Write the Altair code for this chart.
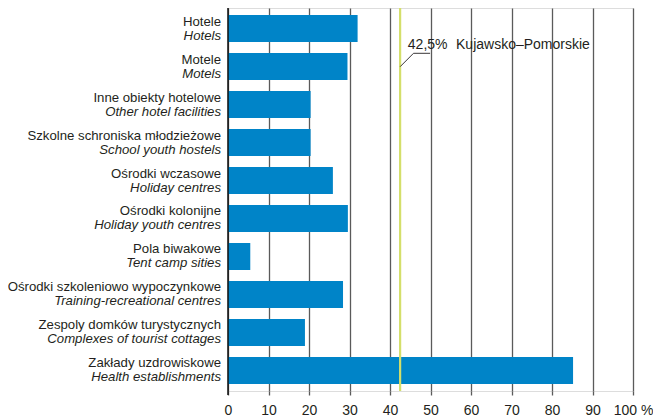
import altair as alt
import pandas as pd

labels_pl = [
    "Hotele", "Motele", "Inne obiekty hotelowe", "Szkolne schroniska młodzieżowe",
    "Ośrodki wczasowe", "Ośrodki kolonijne", "Pola biwakowe",
    "Ośrodki szkoleniowo wypoczynkowe", "Zespoly domków turystycznych", "Zakłady uzdrowiskowe",
]
labels_en = [
    "Hotels", "Motels", "Other hotel facilities", "School youth hostels",
    "Holiday centres", "Holiday youth centres", "Tent camp sities",
    "Training-recreational centres", "Complexes of tourist cottages", "Health establishments",
]
values = [32.0, 29.5, 20.4, 20.4, 25.9, 29.6, 5.5, 28.4, 19.0, 85.2]
ticks = [0, 10, 20, 30, 40, 50, 60, 70, 80, 90, 100]
ref_value = 42.5
ref_label = "42,5%"
ref_region = "Kujawsko–Pomorskie"

df = pd.DataFrame({"pl": labels_pl, "en": labels_en, "v": values})
order = labels_pl

FONT = "Liberation Sans"
TXT = "#231f20"
FS = 13.2
H = 383

x_scale = alt.Scale(domain=[0, 100], nice=False, zero=True)
y_scale = alt.Scale(domain=order, paddingInner=0.29, paddingOuter=0.185)

base = alt.Chart(df)

bars = base.mark_bar(color="#0084c8").encode(
    x=alt.X("v:Q", scale=x_scale,
            axis=alt.Axis(values=ticks, grid=True, gridColor="#5a5a5a", gridWidth=1.3,
                          domain=False, ticks=True, tickSize=4, tickColor="#5a5a5a",
                          tickWidth=1.3, labelFont=FONT, labelFontSize=14,
                          labelColor=TXT, labelPadding=8, title=None,
                          labelOverlap=False, labelFlush=False,
                          labelExpr="datum.value == 100 ? '100 %' : datum.label")),
    y=alt.Y("pl:N", scale=y_scale, sort=order, axis=None),
)

zero_line = alt.Chart(pd.DataFrame({"x": [0]})).mark_rule(color="#111111", strokeWidth=1.5).encode(
    x=alt.X("x:Q", scale=x_scale), y=alt.value(0), y2=alt.value(H + 4)
)

ref_line = alt.Chart(pd.DataFrame({"x": [ref_value]})).mark_rule(color="#d4df6a", strokeWidth=2.2).encode(
    x=alt.X("x:Q", scale=x_scale), y=alt.value(0), y2=alt.value(H)
)

lab_pl = base.mark_text(align="right", baseline="middle", dy=-7, font=FONT, fontSize=FS, color=TXT).encode(
    y=alt.Y("pl:N", scale=y_scale, sort=order, axis=None), x=alt.value(-7), text="pl:N"
)
lab_en = base.mark_text(align="right", baseline="middle", dy=7, font=FONT, fontSize=FS,
                        fontStyle="italic", color=TXT).encode(
    y=alt.Y("pl:N", scale=y_scale, sort=order, axis=None), x=alt.value(-7), text="en:N"
)

leader_df = pd.DataFrame({"x": [42.5, 45.8], "x2": [45.8, 49.9]})
leader1 = alt.Chart(leader_df.iloc[[0]]).mark_rule(color=TXT, strokeWidth=0.9).encode(
    x=alt.X("x:Q", scale=x_scale), x2="x2:Q", y=alt.value(58.7), y2=alt.value(45.3)
)
leader2 = alt.Chart(leader_df.iloc[[1]]).mark_rule(color=TXT, strokeWidth=0.9).encode(
    x=alt.X("x:Q", scale=x_scale), x2="x2:Q", y=alt.value(45.3), y2=alt.value(45.3)
)

ann = alt.Chart(pd.DataFrame({"x": [44.4, 56.3], "t": [ref_label, ref_region]})).mark_text(
    align="left", baseline="middle", font=FONT, fontSize=14, color=TXT).encode(
    x=alt.X("x:Q", scale=x_scale), y=alt.value(37), text="t:N"
)

chart = alt.layer(bars, ref_line, zero_line, leader1, leader2, ann, lab_pl, lab_en).properties(
    width=405, height=H,
    padding={"left": 220, "top": 0, "right": 20, "bottom": 26},
    autosize=alt.AutoSizeParams(type="none"),
).configure_view(stroke=None).configure(background="white")

chart.save("out.html", embed_options={"renderer": "svg", "actions": False})
